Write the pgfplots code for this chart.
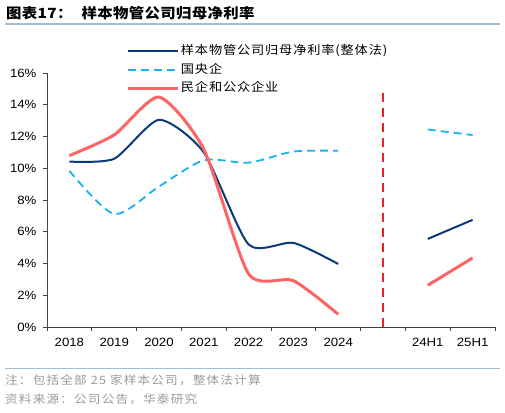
\documentclass[border=0pt]{standalone}
\usepackage{fontspec}
\setmainfont{Liberation Sans}[FakeStretch=1.1]
\newfontfamily\cjk{Noto Sans CJK SC}[FakeStretch=1.1]
\usepackage{pgfplots}
\pgfplotsset{compat=1.18}

\definecolor{navy}{HTML}{0B3A7C}
\definecolor{skyb}{HTML}{1AB2EE}
\definecolor{salmon}{HTML}{FF6464}
\definecolor{vred}{HTML}{E8202A}
\definecolor{rulec}{HTML}{A8BCD4}
\definecolor{notec}{HTML}{9A9A9A}

\begin{document}
\begin{tikzpicture}[x=1pt,y=1pt]
\useasboundingbox (0,0) rectangle (505,412);

% title and rules
\node[anchor=base west,inner sep=0pt,font=\cjk\bfseries\fontsize{14}{16}\selectfont\addfontfeatures{LetterSpace=2.5}]
  at (6,393) {图表17：\hspace{9pt}样本物管公司归母净利率};
\draw[rulec,line width=1.2pt] (5,388) -- (500,388);
\draw[rulec,line width=1.0pt] (5,44) -- (500,44);
\node[anchor=base west,inner sep=0pt,text=notec,font=\cjk\fontsize{11.5}{13}\selectfont\addfontfeatures{LetterSpace=10}]
  at (5,28) {注：包括全部 25 家样本公司，整体法计算};
\node[anchor=base west,inner sep=0pt,text=notec,font=\cjk\fontsize{11.5}{13}\selectfont\addfontfeatures{LetterSpace=10}]
  at (5,9) {资料来源：公司公告，华泰研究};

\begin{axis}[
    at={(47pt,85pt)}, anchor=south west,
    scale only axis, width=448pt, height=254pt,
    xmin=-0.5, xmax=9.5, ymin=0, ymax=16,
    axis x line*=bottom, axis y line*=left,
    axis line style={line width=0.8pt, black!75, -},
    tick style={line width=0.8pt, black!75},
    tick align=outside, major tick length=4pt,
    xtick={-0.5,0.5,...,9.5},
    x tick label as interval,
    xticklabels={2018,2019,2020,2021,2022,2023,2024,,24H1,25H1},
    ytick={0,2,...,16},
    yticklabel={\pgfmathprintnumber{\tick}\%},
    /pgf/number format/assume math mode=true,
    tick label style={font=\fontsize{12}{14}\selectfont},
    xticklabel style={yshift=-4pt},
    yticklabel style={xshift=-3pt},
    legend style={at={(axis description cs:0.178,1.117)}, anchor=north west,
        draw=none, fill=none, inner sep=0pt, row sep=2.6pt,
        font=\cjk\fontsize{12}{14}\selectfont\addfontfeatures{LetterSpace=7},
        nodes={inner sep=1pt, text height=10pt, text depth=4pt}},
    legend cell align=left,
    legend image code/.code={\draw[#1] (0pt,0pt) -- (50pt,0pt);},
]
\addplot[navy, line width=2pt, smooth, tension=0.4]
  coordinates {(0,10.42) (1,10.6) (2,13.05) (3,11.0) (4,5.2) (5,5.3) (6,3.97)};
\addlegendentry{样本物管公司归母净利率(整体法)}
\addplot[skyb, line width=1.8pt, smooth, tension=0.45, dash pattern=on 8pt off 5pt]
  coordinates {(0,9.84) (1,7.12) (2,8.85) (3,10.5) (4,10.35) (5,11.05) (6,11.1)};
\addlegendentry{国央企}
\addplot[salmon, line width=3pt, smooth, tension=0.4]
  coordinates {(0,10.8) (1,12.1) (2,14.48) (3,11.2) (4,3.35) (5,2.92) (6,0.8)};
\addlegendentry{民企和公众企业}

\addplot[navy, line width=2pt, forget plot] coordinates {(8,5.55) (9,6.75)};
\addplot[skyb, line width=1.8pt, dash pattern=on 8pt off 5pt, forget plot] coordinates {(8,12.44) (9,12.09)};
\addplot[salmon, line width=3pt, forget plot] coordinates {(8,2.63) (9,4.35)};
\addplot[vred, line width=2.6pt, dash pattern=on 9pt off 6pt, forget plot] coordinates {(7,0) (7,14.9)};
\end{axis}
\end{tikzpicture}
\end{document}
